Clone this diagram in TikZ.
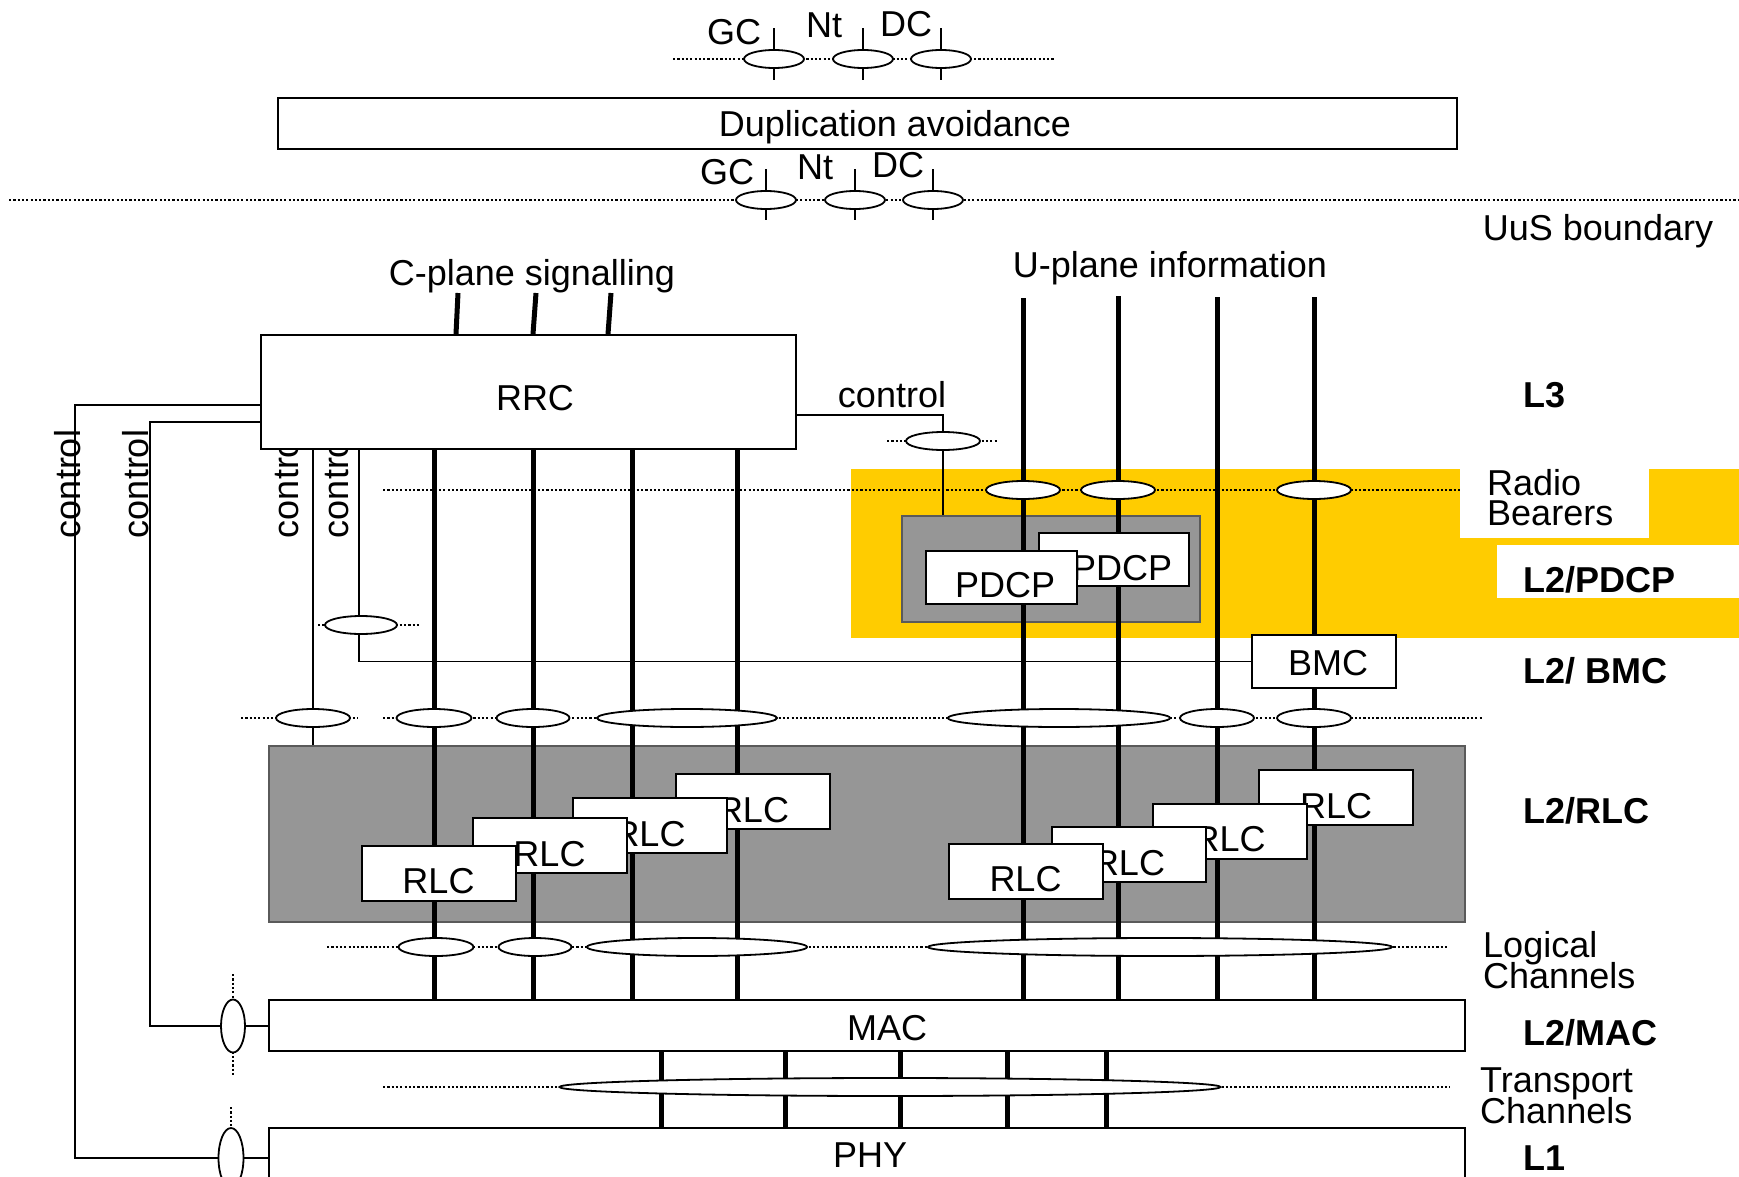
\documentclass[tikz,border=0pt]{standalone}
\usepackage{fontspec}
\setmainfont{Liberation Sans}
\usetikzlibrary{shapes.geometric,calc}
\definecolor{ylw}{RGB}{255,204,0}
\definecolor{gfill}{RGB}{150,150,150}
\definecolor{gedge}{RGB}{90,90,90}
\pgfdeclarelayer{back}
\pgfdeclarelayer{lines}
\pgfsetlayers{back,lines,main}
\begin{document}
\begin{tikzpicture}[x=1pt,y=-1pt,
  every node/.style={font=\fontsize{36}{36}\selectfont, inner sep=0pt},
  blbl/.style={anchor=base west, font=\fontsize{36}{36}\selectfont\bfseries},
  plbl/.style={anchor=base west},
  wbox/.style={draw, fill=white, line width=2pt, inner sep=0pt},
  gbox/.style={draw=gedge, fill=gfill, line width=1.5pt, inner sep=0pt},
  rlcbox/.style={wbox, minimum width=154pt, text height=48pt, text depth=7pt},
  thk/.style={line width=5pt},
  thn/.style={line width=1.8pt},
  dotl/.style={line width=2.3pt, dash pattern=on 2.2pt off 2.1pt},
  ell/.style={draw, ellipse, fill=white, line width=1.8pt, inner sep=0pt, minimum height=18pt},
]
\useasboundingbox (0,0) rectangle (1739,1177);

% ---------- background: yellow band and gray boxes
\begin{pgfonlayer}{back}
  \fill[ylw] (851,469) rectangle (1739,638);
  \fill[white] (1460,469) rectangle (1649,538);
  \fill[white] (1497,545) rectangle (1739,598);
  \node[gbox, minimum width=298pt, minimum height=106pt] (pdcpg) at (1051,569) {};
  \node[gbox, minimum width=1196pt, minimum height=176pt] (rlcg) at (867,834) {};
\end{pgfonlayer}

% ---------- rotated control labels hidden partly behind RRC
\begin{pgfonlayer}{lines}
  \node[rotate=90, anchor=base] (cl1) at (80,484) {control};
  \node[rotate=90, anchor=base] (cl2) at (148,484) {control};
  \node[rotate=90, anchor=base] (cl3) at (298,484) {control};
  \node[rotate=90, anchor=base] (cl4) at (348,484) {control};
\end{pgfonlayer}

% ---------- boxes
\node[wbox, minimum width=1179pt, minimum height=51pt] (dup) at (867.5,123.5) {};
\node[anchor=base] (duptxt) at (895,137) {Duplication avoidance};
\node[wbox, minimum width=535pt, minimum height=114pt] (rrc) at (528.5,392) {};
\node[anchor=base] (rrctxt) at (535,410) {RRC};
\node[wbox, minimum width=1196pt, minimum height=51pt] (mac) at (867,1025.5) {};
\node[anchor=base] (mactxt) at (887,1040) {MAC};
\node[wbox, minimum width=1196pt, minimum height=100pt, anchor=north] (phy) at (867,1127) {};
\node[anchor=base] (phytxt) at (870,1167) {PHY};
\node[wbox, minimum width=144pt, minimum height=53pt] (bmc) at (1324,661.5) {};
\node[anchor=base] (bmctxt) at (1328,675) {BMC};
\node[wbox, minimum width=150pt, minimum height=53pt] (pdcpb) at (1114,559.5) {};
\node[anchor=base] (pdcpbt) at (1122,580) {PDCP};
\node[wbox, minimum width=151pt, minimum height=53pt] (pdcpf) at (1001.5,577.5) {};
\node[anchor=base] (pdcpft) at (1005,597) {PDCP};
\node[rlcbox] (rlc4) at (753,801.5) {RLC};
\node[rlcbox] (rlc3) at (649.5,825.5) {RLC};
\node[rlcbox] (rlc2) at (549.5,845.5) {RLC};
\node[rlcbox] (rlc1) at (438.5,873) {RLC};
\node[rlcbox] (rlc8) at (1336,797.5) {RLC};
\node[rlcbox] (rlc7) at (1229.5,831) {RLC};
\node[rlcbox] (rlc6) at (1129,854.5) {RLC};
\node[rlcbox] (rlc5) at (1025.5,871) {RLC};

% ---------- ellipses
\node[ell, minimum width=60pt] (ta) at (774,59) {};
\node[ell, minimum width=60pt] (tb) at (863,59) {};
\node[ell, minimum width=60pt] (tc) at (941,59) {};
\node[ell, minimum width=60pt] (ua) at (766,200) {};
\node[ell, minimum width=60pt] (ub) at (855,200) {};
\node[ell, minimum width=60pt] (uc) at (933,200) {};
\node[ell, minimum width=74pt] (ce) at (943,441) {};
\node[ell, minimum width=74pt] (rb1) at (1023,490) {};
\node[ell, minimum width=74pt] (rb2) at (1118,490) {};
\node[ell, minimum width=74pt] (rb3) at (1314,490) {};
\node[ell, minimum width=72pt] (cd) at (361,625) {};
\node[ell, minimum width=74pt] (r0) at (313,718) {};
\node[ell, minimum width=75pt] (r1) at (434,718) {};
\node[ell, minimum width=73pt] (r2) at (533,718) {};
\node[ell, minimum width=180pt] (r3) at (687,718) {};
\node[ell, minimum width=222pt] (r4) at (1059,718) {};
\node[ell, minimum width=74pt] (r5) at (1217,718) {};
\node[ell, minimum width=74pt] (r6) at (1314,718) {};
\node[ell, minimum width=75pt] (l1) at (436,947) {};
\node[ell, minimum width=73pt] (l2) at (535,947) {};
\node[ell, minimum width=220pt] (l3) at (697,947) {};
\node[ell, minimum width=464pt] (l4) at (1160,947) {};
\node[ell, minimum width=661pt] (tr) at (890,1087) {};
\node[ell, minimum width=24pt, minimum height=53pt] (macE) at (233,1026) {};
\node[ell, minimum width=25pt, minimum height=60pt] (phyE) at (231,1158) {};

% ---------- coordinates
\coordinate (xa) at (75,405);
\coordinate (xb) at (150,422);
\coordinate (xc) at (313,0);
\coordinate (xd) at (359,0);
\coordinate (xe) at (943,415);
\coordinate (c1) at (434,0);
\coordinate (c2) at (533,0);
\coordinate (c3) at (632,0);
\coordinate (c4) at (737,0);
\coordinate (u1) at (1023,298);
\coordinate (u2) at (1118,296);
\coordinate (u3) at (1217,297);
\coordinate (u4) at (1314,297);
\coordinate (s1) at (458,293);
\coordinate (s2) at (536,293);
\coordinate (s3) at (611,293);
\coordinate (s1b) at (456,0);
\coordinate (s2b) at (533,0);
\coordinate (s3b) at (608,0);

% ---------- lines
\begin{pgfonlayer}{lines}
  % dotted channel lines
  \draw[dotl] (673,59) coordinate (d1a) -- (1054,59) coordinate (d1b);
  \draw[dotl] (9,200) coordinate (d2a) -- (1739,200) coordinate (d2b);
  \draw[dotl] (887,441) coordinate (d3a) -- (998,441) coordinate (d3b);
  \draw[dotl] (383,490) coordinate (d4a) -- (1460,490) coordinate (d4b);
  \draw[dotl] (318,625) coordinate (d5a) -- (420,625) coordinate (d5b);
  \draw[dotl] (241,718) coordinate (d6a) -- (358,718) coordinate (d6b);
  \draw[dotl] (383,718) coordinate (d7a) -- (1482,718) coordinate (d7b);
  \draw[dotl] (327,947) coordinate (d8a) -- (1447,947) coordinate (d8b);
  \draw[dotl] (383,1087) coordinate (d9a) -- (1450,1087) coordinate (d9b);
  \draw[dotl] (233,974) coordinate (dma) -- (233,1075) coordinate (dmb);
  \draw[dotl] (231,1107) coordinate (dpa) -- (231,1177) coordinate (dpb);
  % ticks through the SAP ellipses
  \foreach \e in {ta,tb,tc}
    \draw[thn] ($(\e.north)+(0,-21)$) -- ($(\e.south)+(0,11)$);
  \foreach \e in {ua,ub,uc}
    \draw[thn] ($(\e.north)+(0,-21)$) -- ($(\e.south)+(0,10)$);
  % control lines
  \draw[thn] (rrc.west |- xa) -- (xa) -- (xa |- phyE) -- (phyE);
  \draw[thn] (phyE) -- (phyE -| phy.west);
  \draw[thn] (rrc.west |- xb) -- (xb) -- (xb |- macE) -- (macE);
  \draw[thn] (macE) -- (macE -| mac.west);
  \draw[thn] (xc |- rrc.south) -- (xc |- rlcg.north);
  \draw[thn] (xd |- rrc.south) -- (xd |- bmc.west) -- (bmc.west);
  \draw[thn] (rrc.east |- xe) -- (xe) -- (xe |- pdcpg.north);
  % C-plane signalling
  \draw[thk] (s1) -- (s1b |- rrc.north);
  \draw[thk] (s2) -- (s2b |- rrc.north);
  \draw[thk] (s3) -- (s3b |- rrc.north);
  \foreach \c in {c1,c2,c3,c4}
    \draw[thk] (\c |- rrc.south) -- (\c |- mac.north);
  % U-plane
  \foreach \u in {u1,u2,u3,u4}
    \draw[thk] (\u) -- (\u |- mac.north);
  % transport channels
  \foreach \t in {661,785,900,1007,1106}
    \draw[thk] (\t,0 |- mac.south) -- (\t,0 |- phy.north);
\end{pgfonlayer}

% ---------- texts
\node[anchor=base] (gc1) at (734,45) {GC};
\node[anchor=base] (nt1) at (824,38) {Nt};
\node[anchor=base] (dc1) at (906,37) {DC};
\node[anchor=base] (gc2) at (727,185) {GC};
\node[anchor=base] (nt2) at (815,180) {Nt};
\node[anchor=base] (dc2) at (898,178) {DC};
\node[anchor=base] (uus) at (1598,240) {UuS boundary};
\node[anchor=base] (cpl) at (532,285) {C-plane signalling};
\node[anchor=base] (upl) at (1170,277) {U-plane information};
\node[anchor=base] (ctlr) at (892,407) {control};
\node[blbl] (lay3) at (1523,407) {L3};
\node[plbl] (rad) at (1487,495) {Radio};
\node[plbl] (bear) at (1487,525) {Bearers};
\node[blbl] (lpdcp) at (1523,592) {L2/PDCP};
\node[blbl] (lbmc) at (1523,683) {L2/ BMC};
\node[blbl] (lrlc) at (1523,823) {L2/RLC};
\node[plbl] (logi) at (1483,957) {Logical};
\node[plbl] (chan1) at (1483,988) {Channels};
\node[blbl] (lmac) at (1523,1045) {L2/MAC};
\node[plbl] (trans) at (1480,1092) {Transport};
\node[plbl] (chan2) at (1480,1123) {Channels};
\node[blbl] (lay1) at (1523,1170) {L1};
\end{tikzpicture}
\end{document}
